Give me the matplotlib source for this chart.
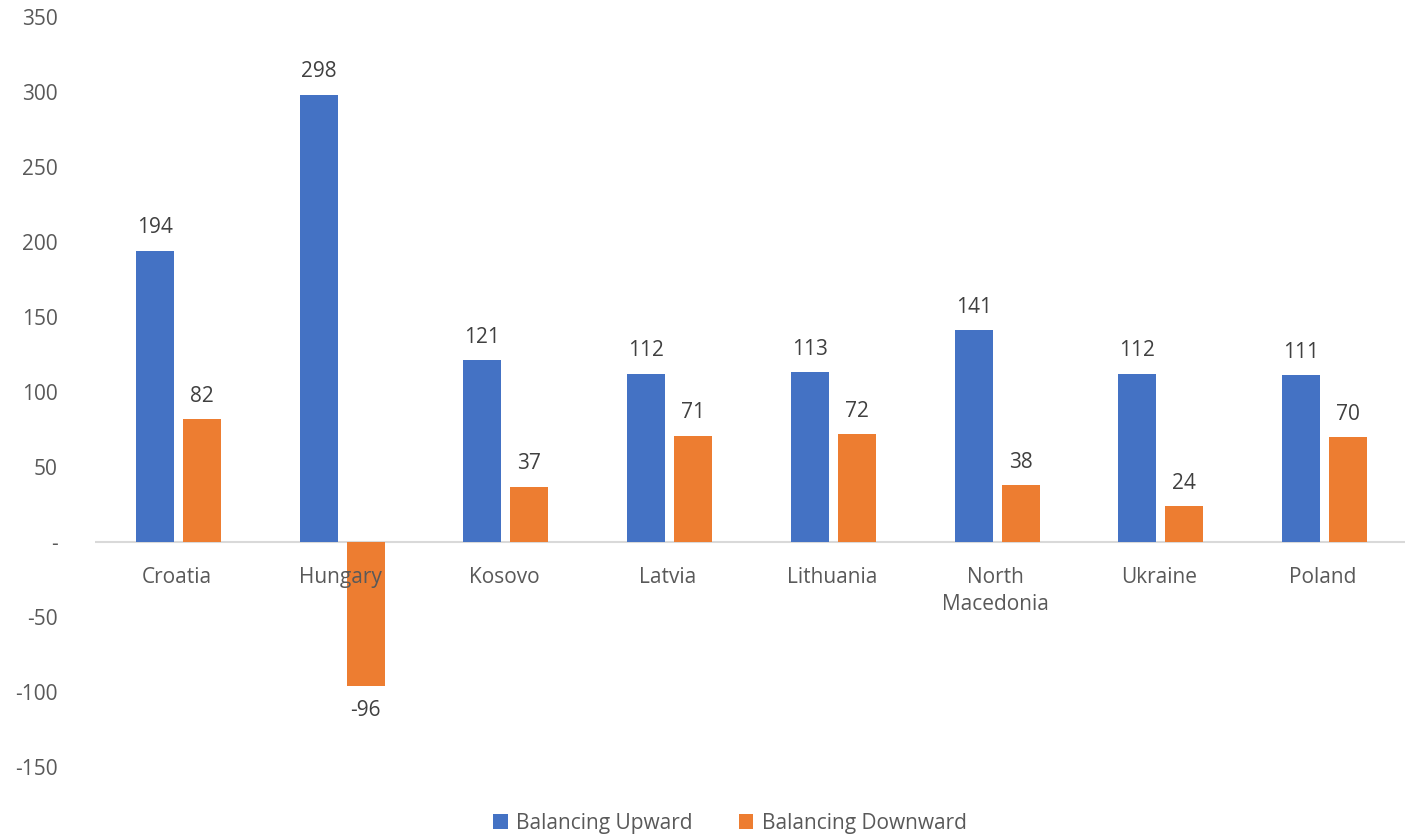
import matplotlib.pyplot as plt
import numpy as np

# chart data
countries = ['Croatia', 'Hungary', 'Kosovo', 'Latvia', 'Lithuania',
             'North\nMacedonia', 'Ukraine', 'Poland']
upward = [194, 298, 121, 112, 113, 141, 112, 111]
downward = [82, -96, 37, 71, 72, 38, 24, 70]
yticks = [-150, -100, -50, 0, 50, 100, 150, 200, 250, 300, 350]
yticklabels = ['-150', '-100', '-50', '-', '50', '100', '150', '200', '250', '300', '350']

blue = '#4472C4'
orange = '#ED7D31'
grey = '#595959'
fs = 15

plt.rcParams['font.family'] = ['Open Sans', 'DejaVu Sans']

fig = plt.figure(figsize=(14.09, 8.36), dpi=100)
ax = fig.add_axes([0.0674, 0.0825, 0.9296, 0.8972])

x = np.arange(len(countries))
w = 0.232
off = 0.1435

ax.bar(x - off + 0.01, upward, w, color=blue, label='Balancing Upward', zorder=3)
ax.bar(x + off + 0.01, downward, w, color=orange, label='Balancing Downward', zorder=3)

# data labels
for i in range(len(countries)):
    for val, dx in ((upward[i], -off + 0.01), (downward[i], off + 0.01)):
        if val >= 0:
            ax.annotate(str(val), (x[i] + dx, val), xytext=(0, 9),
                        textcoords='offset points', ha='center', va='bottom',
                        fontsize=fs, color='#404040')
        else:
            ax.annotate(str(val), (x[i] + dx, val), xytext=(0, -10),
                        textcoords='offset points', ha='center', va='top',
                        fontsize=fs, color='#404040')

# category labels sit under the zero line
for i, name in enumerate(countries):
    ax.annotate(name, (x[i], 0), xytext=(0, -18), textcoords='offset points',
                ha='center', va='top', fontsize=fs, color=grey, zorder=5,
                linespacing=1.35)

ax.axhline(0, color='#D9D9D9', linewidth=1.5, zorder=2)

ax.set_xlim(-0.5, len(countries) - 0.5)
ax.set_ylim(-150, 350)
ax.set_yticks(yticks)
ax.set_yticklabels(yticklabels)
ax.set_xticks([])
ax.tick_params(axis='y', length=0, pad=27, labelsize=fs, labelcolor=grey)
for s in ax.spines.values():
    s.set_visible(False)

leg = fig.legend(loc='lower center', bbox_to_anchor=(0.518, -0.02), ncol=2,
                 frameon=False, fontsize=fs, handlelength=0.7, handleheight=0.7,
                 columnspacing=2.2, handletextpad=0.4)
for t in leg.get_texts():
    t.set_color(grey)

fig.savefig('out.png', dpi=100)
